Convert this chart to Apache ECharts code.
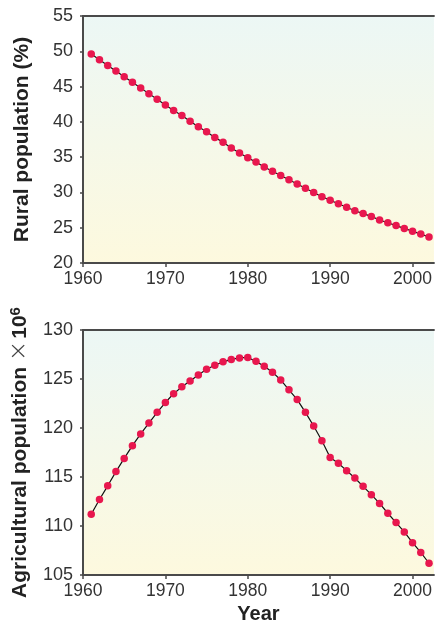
<!DOCTYPE html>
<html>
<head>
<meta charset="utf-8">
<script src="https://cdn.jsdelivr.net/npm/echarts@6/dist/echarts.min.js"></script>
<style>
  html, body { margin: 0; padding: 0; background: #fff; }
  #chart { width: 435px; height: 625px; }
</style>
</head>
<body>
<div id="chart"></div>
<script>
// years 1961 - 2002
var years = [];
for (var y = 1961; y <= 2002; y++) years.push(y);

// rural population (%)
var rural = [
  49.6, 48.8, 48.0, 47.2, 46.4, 45.6, 44.8, 44.0, 43.2, 42.4,
  41.6, 40.9, 40.1, 39.3, 38.6, 37.8, 37.1, 36.3, 35.6, 34.9,
  34.3, 33.6, 33.0, 32.4, 31.8, 31.2, 30.6, 30.0, 29.4, 28.9,
  28.4, 27.9, 27.4, 27.0, 26.6, 26.1, 25.7, 25.3, 24.9, 24.5,
  24.1, 23.7
];

// agricultural population (x10^6)
var agri = [
  111.2, 112.7, 114.1, 115.55, 116.9, 118.2, 119.4, 120.5, 121.6, 122.6,
  123.5, 124.2, 124.8, 125.4, 126.0, 126.4, 126.75, 127.0, 127.15, 127.2,
  126.8, 126.3, 125.7, 124.9, 123.9, 122.9, 121.6, 120.2, 118.7, 117.0,
  116.4, 115.65, 114.9, 114.05, 113.2, 112.3, 111.3, 110.35, 109.4, 108.3,
  107.3, 106.2
];

var xTicks = [1960, 1970, 1980, 1990, 2000];

var chart = echarts.init(document.getElementById('chart'));

var font = 'Liberation Sans, Arial, sans-serif';
var axisColor = '#4a4a4a';
var bg = {
  type: 'linear', x: 0, y: 0, x2: 0, y2: 1,
  colorStops: [
    { offset: 0, color: '#ecf7f5' },
    { offset: 1, color: '#fdf9de' }
  ]
};

function pairs(vals) {
  return vals.map(function (v, i) { return [years[i], v]; });
}

function xAxisFor(gridIndex, name) {
  return {
    type: 'value',
    gridIndex: gridIndex,
    min: 1960,
    max: 2002.6,
    name: name,
    nameLocation: 'middle',
    nameGap: 29,
    nameTextStyle: { fontFamily: font, fontSize: 20, fontWeight: 'bold', color: '#222' },
    axisLine: { show: true, onZero: false, lineStyle: { color: axisColor, width: 2 } },
    axisTick: { show: true, length: 4, customValues: xTicks, lineStyle: { color: axisColor, width: 1.5 } },
    axisLabel: {
      customValues: xTicks, margin: 7, fontFamily: font, fontSize: 17.5, color: '#333',
      formatter: function (v) { return String(v); }
    },
    splitLine: { show: false }
  };
}

// top frame line
function topAxisFor(gridIndex) {
  return {
    type: 'value',
    gridIndex: gridIndex,
    position: 'top',
    min: 1960,
    max: 2002.6,
    axisLine: { show: true, lineStyle: { color: axisColor, width: 2 } },
    axisTick: { show: false },
    axisLabel: { show: false },
    splitLine: { show: false }
  };
}

function yAxisFor(gridIndex, min, max, name) {
  return {
    type: 'value',
    gridIndex: gridIndex,
    min: min,
    max: max,
    interval: 5,
    name: name,
    nameLocation: 'middle',
    nameGap: 50,
    nameRotate: 90,
    nameTextStyle: {
      fontFamily: font, fontSize: 21, fontWeight: 'bold', color: '#222',
      rich: {
        b: { fontFamily: font, fontSize: 21, fontWeight: 'bold', color: '#222' },
        x: { fontFamily: 'DejaVu Sans, sans-serif', fontSize: 24, fontWeight: 'lighter', color: '#444', padding: [0, 2, 0, 6] },
        s: { fontFamily: font, fontSize: 15, fontWeight: 'bold', color: '#222', verticalAlign: 'top', padding: [0, 0, 7, 0] }
      }
    },
    axisLine: { show: true, onZero: false, lineStyle: { color: axisColor, width: 2 } },
    axisTick: { show: true, length: 3, lineStyle: { color: axisColor, width: 1.5 } },
    axisLabel: { margin: 10, fontFamily: font, fontSize: 18, color: '#333' },
    splitLine: { show: false }
  };
}

function seriesFor(idx, vals) {
  return {
    type: 'line',
    xAxisIndex: idx * 2,
    yAxisIndex: idx,
    data: pairs(vals),
    symbol: 'circle',
    symbolSize: 7.5,
    showSymbol: true,
    lineStyle: { color: '#111', width: 1.2 },
    itemStyle: { color: '#e8174e' },
    animation: false,
    z: 3
  };
}

var option = {
  backgroundColor: '#fff',
  animation: false,
  grid: [
    { left: 83, right: 0, top: 16, height: 247, show: true, backgroundColor: bg, borderWidth: 0 },
    { left: 83, right: 0, top: 330, height: 247, show: true, backgroundColor: bg, borderWidth: 0 }
  ],
  xAxis: [
    xAxisFor(0, ''),
    topAxisFor(0),
    xAxisFor(1, 'Year'),
    topAxisFor(1)
  ],
  yAxis: [
    yAxisFor(0, 20, 55, 'Rural population (%)'),
    yAxisFor(1, 105, 130, '{b|Agricultural population}{x|×}{b|10}{s|6}')
  ],
  series: [
    seriesFor(0, rural),
    seriesFor(1, agri)
  ]
};

chart.setOption(option);
</script>
</body>
</html>
